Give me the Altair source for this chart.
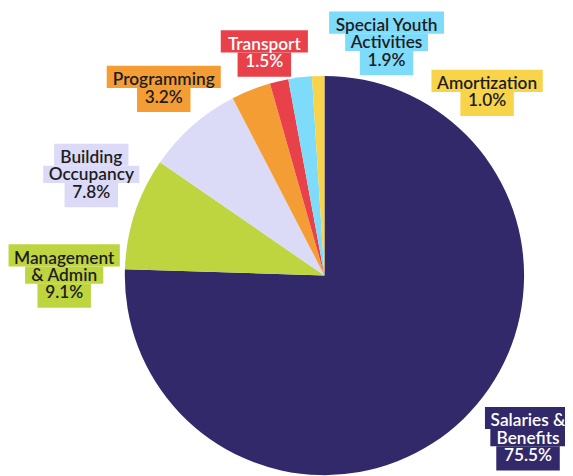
import altair as alt
import pandas as pd

# ---------------- data ----------------
categories = ["Salaries & Benefits", "Management & Admin", "Building Occupancy",
              "Programming", "Transport", "Special Youth Activities", "Amortization"]
shares = [75.5, 9.1, 7.8, 3.2, 1.5, 1.9, 1.0]
label_lines = [["Salaries &", "Benefits"], ["Management", "& Admin"],
               ["Building", "Occupancy"], ["Programming"], ["Transport"],
               ["Special Youth", "Activities"], ["Amortization"]]

# ---------------- styles / layout ----------------
colors = ["#32296b", "#bfd540", "#dbdaf7", "#f59d35", "#e8414a", "#7edcfa", "#f8d44b"]
text_colors = ["#ffffff", "#1d1d1f", "#1d1d1f", "#1d1d1f", "#ffffff", "#1d1d1f", "#1d1d1f"]

W, H = 565, 468
CX, CY, R = 321, 268, 202.5
FONT = "Lato"
FS = 17.5
LINE = 17.5
PADX = 7

# label anchor: (center x, first baseline) in view pixels
label_anchor = {
    "Salaries & Benefits": (527.5, 421),
    "Management & Admin": (57, 256),
    "Building Occupancy": (84.5, 154),
    "Programming": (158, 75),
    "Transport": (260, 39),
    "Special Youth Activities": (384, 20),
    "Amortization": (486, 79),
}

# approximate Lato advance widths (em), used to size the label backgrounds
CW = {" ": 0.193, "%": 0.90, "&": 0.70, ".": 0.24,
      "A": 0.68, "B": 0.64, "M": 0.86, "O": 0.75, "P": 0.59, "S": 0.53, "T": 0.59, "Y": 0.63,
      "a": 0.49, "b": 0.55, "c": 0.46, "d": 0.55, "e": 0.52, "f": 0.33, "g": 0.50,
      "h": 0.55, "i": 0.24, "j": 0.24, "k": 0.50, "l": 0.24, "m": 0.82, "n": 0.55,
      "o": 0.56, "p": 0.55, "q": 0.55, "r": 0.37, "s": 0.42, "t": 0.35, "u": 0.55,
      "v": 0.50, "w": 0.76, "x": 0.49, "y": 0.50, "z": 0.44}


def text_width(s):
    return sum(CW.get(ch, 0.58) for ch in s) * FS


pie_df = pd.DataFrame({"category": categories, "share": shares,
                       "idx": list(range(len(categories)))})

rows = []
for cat, val, lines, tc in zip(categories, shares, label_lines, text_colors):
    all_lines = lines + [f"{val:.1f}%"]
    ax, ab = label_anchor[cat]
    n = len(all_lines)
    for i, line in enumerate(all_lines):
        base = ab + i * LINE
        w = text_width(line)
        mid = base - 6
        rows.append({
            "category": cat, "line": line, "tcolor": tc,
            "tx": ax, "ty": base,
            "x1": ax - w / 2 - PADX, "x2": ax + w / 2 + PADX,
            "y1": mid - LINE / 2 - (5 if i == 0 else 0),
            "y2": mid + LINE / 2 + (7 if i == n - 1 else 0),
        })
lab_df = pd.DataFrame(rows)

fill_scale = alt.Scale(domain=categories, range=colors)

pie = alt.Chart(pie_df).mark_arc(outerRadius=R, x=CX, y=CY).encode(
    theta=alt.Theta("share:Q", stack=True),
    order=alt.Order("idx:Q"),
    fill=alt.Fill("category:N", scale=fill_scale, legend=None),
)

boxes = alt.Chart(lab_df).mark_rect().encode(
    x=alt.X("x1:Q", scale=None), x2="x2:Q",
    y=alt.Y("y1:Q", scale=None), y2="y2:Q",
    fill=alt.Fill("category:N", scale=fill_scale, legend=None),
)

texts = alt.Chart(lab_df).mark_text(
    font=FONT, fontSize=FS, fontWeight=600, align="center", baseline="alphabetic"
).encode(
    x=alt.X("tx:Q", scale=None),
    y=alt.Y("ty:Q", scale=None),
    text="line:N",
    color=alt.Color("tcolor:N", scale=None),
)

chart = alt.layer(pie, boxes, texts).properties(
    width=W, height=H, padding=0,
    autosize=alt.AutoSizeParams(type="none"),
).configure_view(stroke=None)

chart.save("out.html", embed_options={"renderer": "svg", "actions": False})
